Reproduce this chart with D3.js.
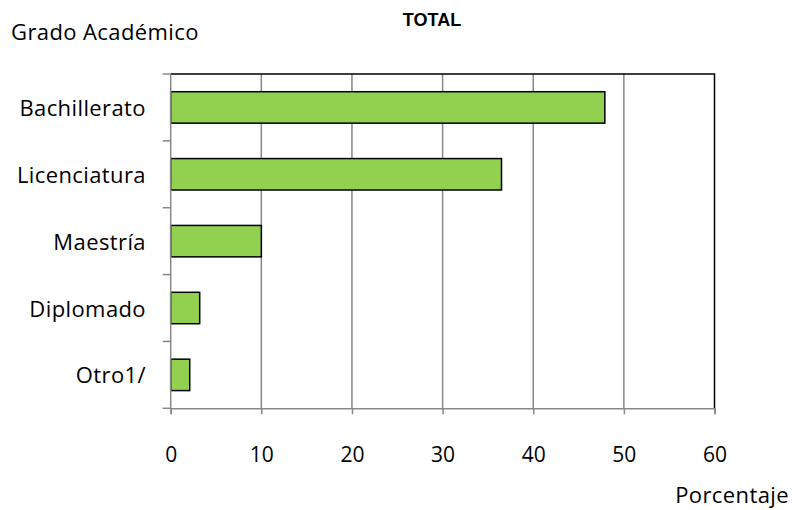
<!DOCTYPE html>
<html><head><meta charset="utf-8">
<script src="https://cdn.jsdelivr.net/npm/d3@7"></script>
<style>body{margin:0;background:#fff}svg{display:block}</style>
</head><body><svg id="c" width="795" height="510"></svg>
<script>
const categories = ["Bachillerato","Licenciatura","Maestría","Diplomado","Otro1/"];
const values = [47.9, 36.5, 10.0, 3.2, 2.1];
const xTicks = [0,10,20,30,40,50,60];

const svg = d3.select("#c");
const L=170.7, R=714.5, T=74, B=408.3;
const font = "'Open Sans', sans-serif";
const fs = 22, ls = 0.4;
const x = d3.scaleLinear().domain([0,60]).range([L,R]);
const y = d3.scaleBand().domain(categories).range([T,B]).paddingInner(0.53).paddingOuter(0.265);

// grid
svg.append("g").selectAll("line").data(xTicks.slice(1,-1)).join("line")
  .attr("x1",d=>x(d)).attr("x2",d=>x(d)).attr("y1",T).attr("y2",B)
  .attr("stroke","#888").attr("stroke-width",1.5);
// frame top/right
svg.append("path").attr("d",`M${L},${T}H${R}V${B}`).attr("fill","none").attr("stroke","#000").attr("stroke-width",1.5);

// bars
svg.append("g").selectAll("rect").data(values).join("rect")
  .attr("x",x(0)).attr("y",(d,i)=>y(categories[i]))
  .attr("width",d=>x(d)-x(0)).attr("height",y.bandwidth())
  .attr("fill","#92D050").attr("stroke","#000").attr("stroke-width",1.5);

// x axis
const xa = svg.append("g").attr("transform",`translate(0,${B})`)
  .call(d3.axisBottom(x).tickValues(xTicks).tickSize(6).tickPadding(0).tickFormat(d3.format("d")));
xa.select(".domain").attr("stroke","#888").attr("stroke-width",1.5);
xa.selectAll(".tick line").attr("stroke","#888").attr("stroke-width",1.5);
xa.selectAll("text").attr("font-family",font).attr("font-size",21).attr("fill","#000")
  .attr("y",53.5).attr("dy",null);

// y axis with band-boundary ticks
const bounds = d3.range(categories.length+1).map(i=>T+i*(B-T)/categories.length);
svg.append("line").attr("x1",L).attr("x2",L).attr("y1",T).attr("y2",B).attr("stroke","#888").attr("stroke-width",1.5);
svg.append("g").selectAll("line").data(bounds).join("line")
  .attr("x1",L-8).attr("x2",L).attr("y1",d=>d).attr("y2",d=>d).attr("stroke","#888").attr("stroke-width",1.5);
svg.append("g").selectAll("text").data(categories).join("text")
  .attr("x",146).attr("y",d=>y(d)+y.bandwidth()/2+8.5)
  .attr("text-anchor","end").attr("font-family",font).attr("font-size",fs).attr("letter-spacing",ls).text(d=>d);

svg.append("text").attr("x",11).attr("y",40).attr("font-family",font).attr("font-size",fs).attr("letter-spacing",ls).text("Grado Académico");
svg.append("text").attr("x",789).attr("y",503).attr("text-anchor","end").attr("font-family",font).attr("font-size",fs).attr("letter-spacing",ls).text("Porcentaje");
svg.append("text").attr("x",432).attr("y",26).attr("text-anchor","middle").attr("font-family","Arial, 'Liberation Sans', sans-serif").attr("font-weight","bold").attr("font-size",18).text("TOTAL");
</script></body></html>
